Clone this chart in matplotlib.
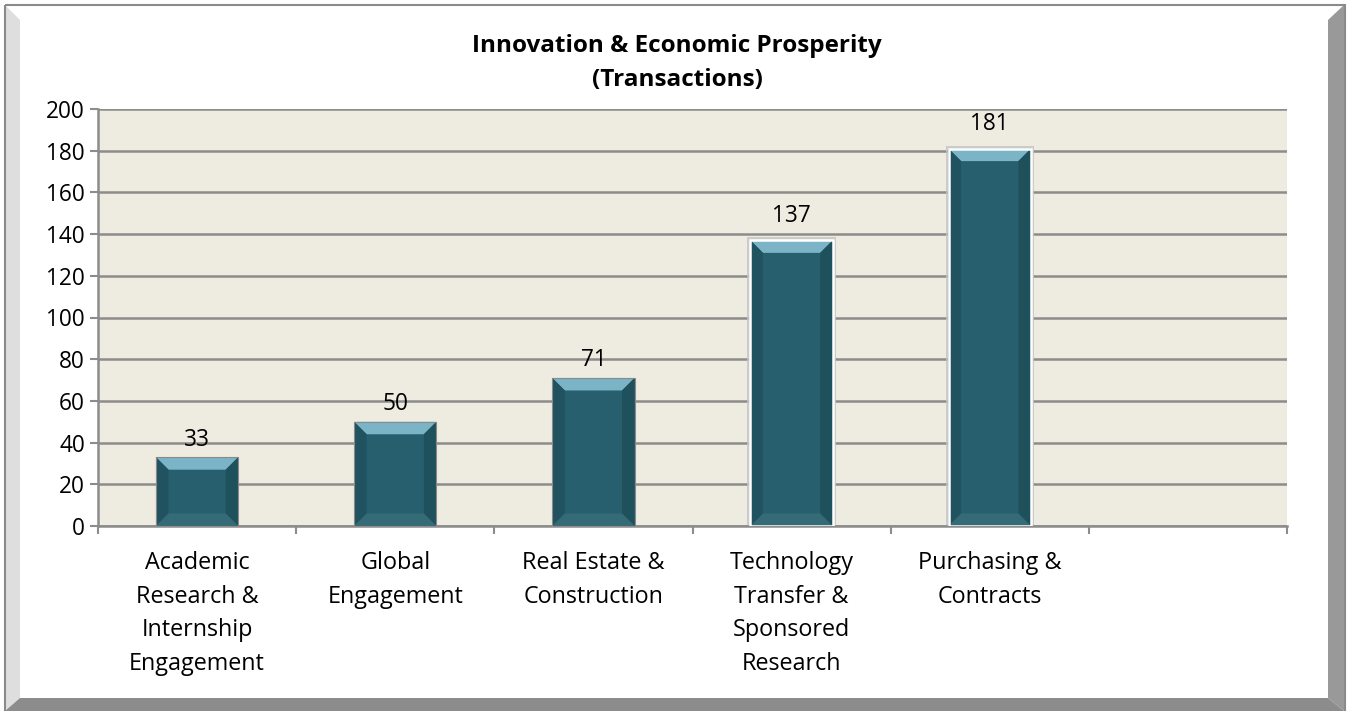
import matplotlib
matplotlib.use("Agg")
import matplotlib.pyplot as plt
from matplotlib.patches import Polygon, Rectangle
import numpy as np

categories = ["Academic\nResearch &\nInternship\nEngagement", "Global\nEngagement",
              "Real Estate &\nConstruction", "Technology\nTransfer &\nSponsored\nResearch",
              "Purchasing &\nContracts", ""]
values = [33, 50, 71, 137, 181]
highlight = [False, False, False, True, True]
title = "Innovation & Economic Prosperity\n(Transactions)"
yticks = list(range(0, 201, 20))

FONT = "Open Sans"
W, H = 1350, 711
fig = plt.figure(figsize=(W / 100, H / 100), dpi=100)
fig.patch.set_facecolor("white")

# frame layer in pixel coordinates (y downward)
bg = fig.add_axes([0, 0, 1, 1], zorder=0)
bg.set_xlim(0, W)
bg.set_ylim(H, 0)
bg.axis("off")
bg.add_patch(Polygon([(5, 5), (20, 20), (20, 698), (5, 711)], closed=True, fc="#dedede", ec="none"))
bg.add_patch(Polygon([(1344, 5), (1328, 20), (1328, 698), (1344, 711)], closed=True, fc="#999999", ec="none"))
bg.add_patch(Polygon([(5, 711), (20, 698), (1328, 698), (1344, 711)], closed=True, fc="#8c8c8c", ec="none"))
bg.add_patch(Rectangle((4.5, 4.5), 1340, 710, fc="none", ec="#8a8a8a", lw=1.5))

L, R, T, B = 98, 1287, 109, 526
ax = fig.add_axes([L / W, (H - B) / H, (R - L) / W, (B - T) / H], zorder=1)
ax.set_facecolor("#eeebe0")
n = len(categories)
ax.set_xlim(-0.5, n - 0.5)
ax.set_ylim(0, 200)

grid_c = "#8c8c8c"
for s in ["top", "right"]:
    ax.spines[s].set_visible(False)
for s in ["left", "bottom"]:
    ax.spines[s].set_color(grid_c)
    ax.spines[s].set_linewidth(1.8)
ax.set_yticks(yticks)
ax.set_yticklabels([str(v) for v in yticks], fontsize=16.3, fontfamily=FONT)
ax.yaxis.grid(True, color=grid_c, lw=1.8)
ax.set_axisbelow(True)
ax.tick_params(axis="y", direction="out", length=6, width=1.5, color=grid_c, pad=3.5)

bounds = np.arange(n + 1) - 0.5
ax.set_xticks(bounds)
ax.set_xticklabels([""] * len(bounds))
ax.tick_params(axis="x", which="major", direction="out", length=6, width=1.5, color=grid_c)
ax.set_xticks(np.arange(n), minor=True)
ax.set_xticklabels(categories, minor=True, fontsize=16.8, fontfamily=FONT, linespacing=1.54, va="top")
ax.tick_params(axis="x", which="minor", length=0, pad=18)

xs = np.arange(len(values))
bw = 0.415
bars = ax.bar(xs, values, width=bw, color="#275f6e", zorder=3, lw=0)

fig.canvas.draw()
inv = ax.transData.inverted()
b = 12.5
for rect, hl, v in zip(bars, highlight, values):
    x0, x1 = rect.get_x(), rect.get_x() + rect.get_width()
    (X0, Yb), (X1, Yt) = ax.transData.transform([(x0, 0), (x1, rect.get_height())])
    polys = {
        "#7ab4c6": [(X0, Yt), (X1, Yt), (X1 - b, Yt - b), (X0 + b, Yt - b)],
        "#21525f": [(X0, Yb), (X0, Yt), (X0 + b, Yt - b), (X0 + b, Yb + b)],
        "#1f515d": [(X1, Yb), (X1, Yt), (X1 - b, Yt - b), (X1 - b, Yb + b)],
        "#356b77": [(X0, Yb), (X1, Yb), (X1 - b, Yb + b), (X0 + b, Yb + b)],
    }
    for c, pts in polys.items():
        ax.add_patch(Polygon(inv.transform(pts), closed=True, fc=c, ec="none", zorder=4))
    if hl:
        g = inv.transform([(X0 - 3, Yb), (X1 + 3, Yt + 3)])
        ax.add_patch(Rectangle((g[0][0], 0), g[1][0] - g[0][0], g[1][1], fc="#c4c4c4", ec="none", zorder=2.5, alpha=0.8))
        ax.add_patch(Rectangle((x0, 0), x1 - x0, rect.get_height(), fc="none", ec="white", lw=1.8, zorder=5))
    else:
        ax.add_patch(Rectangle((x0, 0), x1 - x0, rect.get_height(), fc="none", ec="#8a8a8a", lw=0.8, zorder=5))
    off = 9 if hl else 4
    ax.annotate(str(v), (rect.get_x() + rect.get_width() / 2, rect.get_height()), xytext=(0, off),
                textcoords="offset points", ha="center", va="bottom", fontsize=16.3, fontfamily=FONT, zorder=6)

fig.text(677 / W, 1 - 63 / H, title, ha="center", va="center", fontsize=17.5, fontweight="bold",
         fontfamily=FONT, linespacing=1.6, zorder=3)

fig.savefig("out.png", dpi=100)
